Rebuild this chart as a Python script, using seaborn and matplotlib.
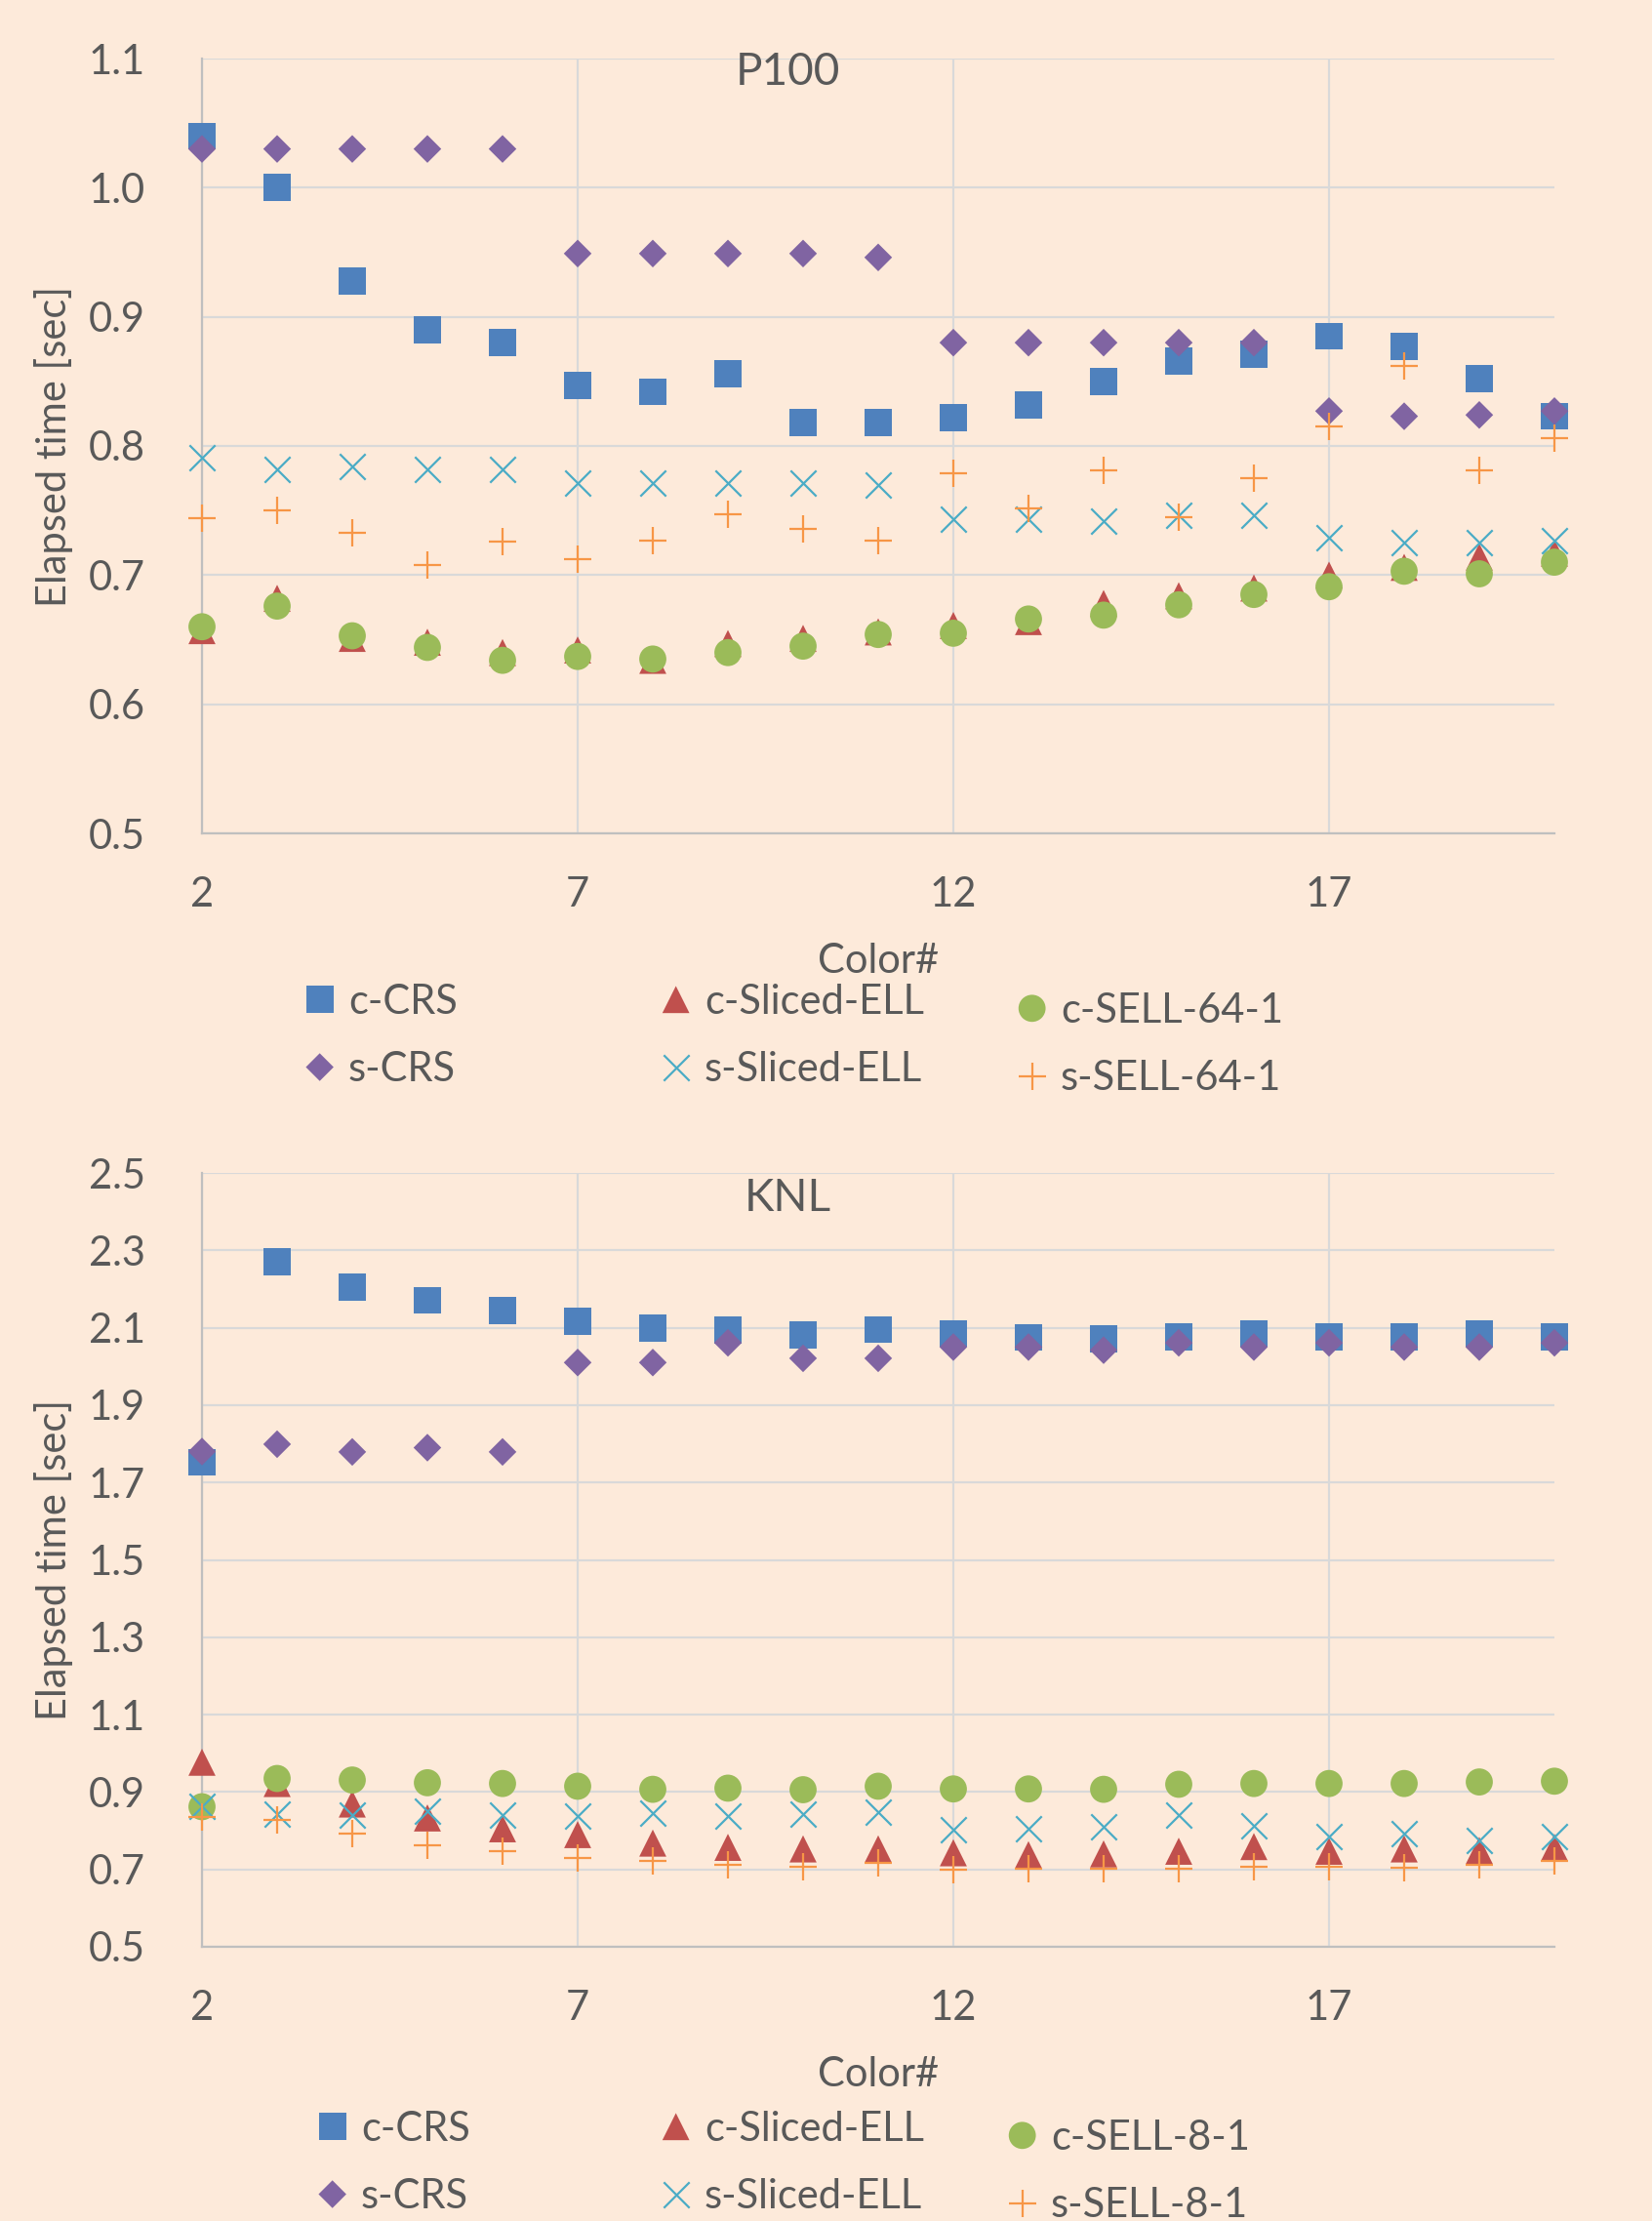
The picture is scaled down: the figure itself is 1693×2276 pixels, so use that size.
import matplotlib
matplotlib.use("Agg")
import matplotlib.pyplot as plt
import seaborn as sns

# Color# on the x axis (same for both panels)
color_counts = list(range(2, 21))

# P100 elapsed time [sec]
p100_c_crs = [1.040, 1.000, 0.928, 0.890, 0.880, 0.847, 0.842, 0.856, 0.818, 0.818,
              0.822, 0.832, 0.850, 0.866, 0.871, 0.885, 0.877, 0.852, 0.823]
p100_c_sliced = [0.657, 0.682, 0.651, 0.648, 0.640, 0.642, 0.634, 0.647, 0.651, 0.656,
                 0.661, 0.664, 0.678, 0.684, 0.690, 0.700, 0.706, 0.714, 0.717]
p100_c_sell = [0.660, 0.676, 0.653, 0.644, 0.634, 0.637, 0.635, 0.640, 0.645, 0.654,
               0.655, 0.666, 0.669, 0.677, 0.685, 0.691, 0.703, 0.701, 0.710]
p100_s_crs = [1.030, 1.030, 1.030, 1.030, 1.030, 0.949, 0.949, 0.949, 0.949, 0.946,
              0.880, 0.880, 0.880, 0.880, 0.880, 0.827, 0.823, 0.824, 0.827]
p100_s_sliced = [0.791, 0.782, 0.784, 0.782, 0.782, 0.771, 0.771, 0.771, 0.771, 0.770,
                 0.743, 0.743, 0.742, 0.746, 0.746, 0.729, 0.725, 0.725, 0.727]
p100_s_sell = [0.744, 0.750, 0.733, 0.708, 0.726, 0.712, 0.727, 0.747, 0.736, 0.727,
               0.779, 0.752, 0.781, 0.745, 0.775, 0.815, 0.862, 0.781, 0.806]

# KNL elapsed time [sec]
knl_c_crs = [1.752, 2.271, 2.204, 2.171, 2.144, 2.117, 2.099, 2.093, 2.082, 2.095,
             2.085, 2.075, 2.071, 2.077, 2.085, 2.077, 2.077, 2.085, 2.077]
knl_c_sliced = [0.977, 0.922, 0.869, 0.833, 0.805, 0.790, 0.768, 0.757, 0.753, 0.753,
                0.743, 0.738, 0.740, 0.747, 0.759, 0.747, 0.753, 0.749, 0.757]
knl_c_sell = [0.862, 0.935, 0.931, 0.924, 0.922, 0.915, 0.907, 0.910, 0.906, 0.915,
              0.908, 0.908, 0.907, 0.920, 0.922, 0.922, 0.922, 0.926, 0.928]
knl_s_crs = [1.780, 1.799, 1.779, 1.790, 1.779, 2.010, 2.010, 2.061, 2.021, 2.021,
             2.050, 2.050, 2.042, 2.061, 2.050, 2.061, 2.050, 2.050, 2.061]
knl_s_sliced = [0.862, 0.844, 0.841, 0.850, 0.841, 0.837, 0.846, 0.837, 0.843, 0.848,
                0.803, 0.805, 0.810, 0.841, 0.813, 0.785, 0.792, 0.776, 0.785]
knl_s_sell = [0.836, 0.827, 0.792, 0.762, 0.748, 0.729, 0.721, 0.712, 0.706, 0.718,
              0.699, 0.703, 0.701, 0.701, 0.708, 0.708, 0.705, 0.713, 0.723]

p100_yticks = [0.5, 0.6, 0.7, 0.8, 0.9, 1.0, 1.1]
knl_yticks = [0.5, 0.7, 0.9, 1.1, 1.3, 1.5, 1.7, 1.9, 2.1, 2.3, 2.5]
x_ticks = [2, 7, 12, 17]

BG = "#FDEADA"
TEXT = "#595959"
GRID = "#D9D9D9"
AXIS = "#BFBFBF"

sns.set_style("white")
plt.rcParams["font.family"] = ["Lato", "DejaVu Sans"]

# marker, colour, size (pt^2), line width
styles = {
    "c-CRS": ("s", "#4F81BD", 400, 0),
    "c-Sliced-ELL": ("^", "#C0504D", 400, 0),
    "c-SELL": ("o", "#9BBB59", 400, 0),
    "s-CRS": ("D", "#8064A2", 210, 0),
    "s-Sliced-ELL": ("x", "#4BACC6", 361, 1.6),
    "s-SELL": ("+", "#F79646", 400, 1.6),
}


def draw_panel(ax, series, yticks, title, title_y, sell_name):
    ax.set_facecolor(BG)
    for key, values in series:
        marker, color, size, lw = styles[key]
        label = key.replace("SELL", sell_name)
        sns.scatterplot(x=color_counts, y=values, marker=marker, color=color, s=size,
                        linewidth=lw, edgecolor=color if lw else "none",
                        label=label, legend=False, ax=ax, zorder=3, clip_on=False)
    ax.set_xlim(2, 20)
    ax.set_ylim(yticks[0], yticks[-1])
    ax.set_xticks(x_ticks)
    ax.set_yticks(yticks)
    ax.set_yticklabels([f"{v:.1f}" for v in yticks])
    ax.grid(True, color=GRID, linewidth=1.6)
    ax.set_axisbelow(True)
    for side in ("top", "right"):
        ax.spines[side].set_visible(False)
    for side in ("left", "bottom"):
        ax.spines[side].set_color(AXIS)
        ax.spines[side].set_linewidth(1.6)
        ax.spines[side].set_zorder(2.5)
    ax.tick_params(axis="x", length=0, pad=32, labelsize=30, labelcolor=TEXT)
    ax.tick_params(axis="y", length=0, pad=42, labelsize=30, labelcolor=TEXT)
    ax.set_xlabel("Color#", fontsize=30, color=TEXT)
    ax.set_ylabel("Elapsed time [sec]", fontsize=30, color=TEXT)
    ax.xaxis.label.set_va("center")
    ax.yaxis.label.set_va("center")
    ax.xaxis.set_label_coords(0.5, -0.165)
    ax.yaxis.set_label_coords(-0.110, 0.5)
    ax.text(0.433, title_y, title, transform=ax.transAxes, ha="center", va="center",
            fontsize=33, color=TEXT)


def add_legend(fig, ax, col_starts, y_center):
    handles, labels = ax.get_legend_handles_labels()
    lookup = dict(zip(labels, handles))
    # Excel fills rows first: c-* on the top row, s-* below
    columns = [[labels[0], labels[3]], [labels[1], labels[4]], [labels[2], labels[5]]]
    for i, (x0, col) in enumerate(zip(col_starts, columns)):
        # the third column's text sits a little lower in the original
        y = y_center - (9 / 2276 if i == 2 else 0)
        fig.legend([lookup[l] for l in col], col, loc="center left",
                   bbox_to_anchor=(x0 / 1693, y), bbox_transform=fig.transFigure,
                   frameon=False, fontsize=30, handlelength=0.8, handletextpad=0.3,
                   labelspacing=0.75, borderpad=0, borderaxespad=0,
                   scatteryoffsets=[0.5], labelcolor=TEXT)


fig = plt.figure(figsize=(16.93, 22.76), dpi=100)
fig.patch.set_facecolor(BG)

ax_top = fig.add_axes([207 / 1693, 1 - 854 / 2276, 1386 / 1693, 794 / 2276])
ax_bot = fig.add_axes([207 / 1693, 1 - 1995 / 2276, 1386 / 1693, 793 / 2276])

draw_panel(ax_top, [("c-CRS", p100_c_crs), ("c-Sliced-ELL", p100_c_sliced),
                    ("c-SELL", p100_c_sell), ("s-CRS", p100_s_crs),
                    ("s-Sliced-ELL", p100_s_sliced), ("s-SELL", p100_s_sell)],
           p100_yticks, "P100", 0.982, "SELL-64-1")
draw_panel(ax_bot, [("c-CRS", knl_c_crs), ("c-Sliced-ELL", knl_c_sliced),
                    ("c-SELL", knl_c_sell), ("s-CRS", knl_s_crs),
                    ("s-Sliced-ELL", knl_s_sliced), ("s-SELL", knl_s_sell)],
           knl_yticks, "KNL", 0.967, "SELL-8-1")

add_legend(fig, ax_top, [311, 676, 1041], 1 - 1061.5 / 2276)
add_legend(fig, ax_bot, [324, 676, 1031], 1 - 2216.5 / 2276)

fig.savefig("out.png", dpi=100, facecolor=BG)
